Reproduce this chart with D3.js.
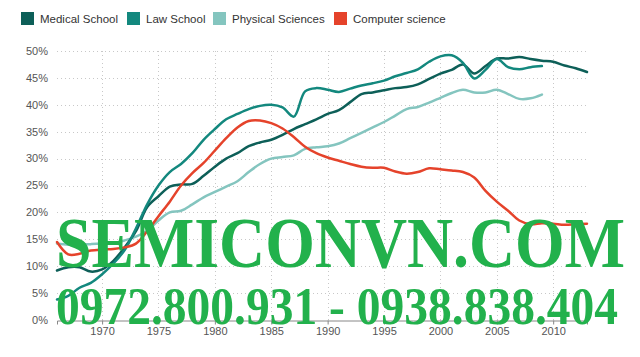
<!DOCTYPE html>
<html>
<head>
<meta charset="utf-8">
<script src="https://cdn.jsdelivr.net/npm/d3@7"></script>
<style>
  html, body { margin: 0; padding: 0; background: #fff; }
  svg { display: block; }
  .sans { font-family: "Liberation Sans", Arial, sans-serif; }
  .wm { font-family: "Liberation Serif", "Times New Roman", serif; font-weight: bold; }
</style>
</head>
<body>
<svg id="chart" width="640" height="357"></svg>
<script>
const seriesNames = ["Medical School", "Law School", "Physical Sciences", "Computer science"];
const seriesColors = ["#0d5f58", "#13887e", "#84c5bf", "#e5432b"];

const medicalYears = d3.range(1966, 2014);
const medicalValues = [9.2, 9.8, 9.8, 9.0, 9.4, 11.0, 13.5, 16.5, 21.0, 23.0,
  24.8, 25.2, 25.3, 26.8, 28.5, 30.0, 31.0, 32.3, 33.0, 33.5,
  34.4, 35.5, 36.4, 37.3, 38.3, 39.0, 40.5, 42.0, 42.3, 42.7,
  43.1, 43.3, 43.8, 44.8, 45.8, 46.5, 47.5, 45.8, 47.2, 48.6,
  48.6, 48.9, 48.5, 48.2, 48.0, 47.3, 46.8, 46.1];

const lawYears = d3.range(1966, 2010);
const lawValues = [3.8, 4.5, 6.0, 6.9, 8.5, 10.5, 13.0, 17.0, 21.5, 25.0,
  27.5, 29.0, 31.0, 33.5, 35.5, 37.3, 38.3, 39.2, 39.8, 40.0,
  39.5, 37.8, 42.5, 43.1, 42.8, 42.4, 43.0, 43.6, 44.0, 44.5,
  45.3, 45.9, 46.6, 48.0, 49.0, 49.2, 47.8, 44.9, 46.5, 48.5,
  47.0, 46.6, 47.0, 47.2];

const physicalYears = d3.range(1966, 2010);
const physicalValues = [14.2, 14.0, 14.0, 14.1, 14.2, 14.3, 14.8, 15.5, 16.6, 18.5,
  20.0, 20.3, 21.5, 22.8, 23.8, 24.8, 25.8, 27.5, 29.0, 30.0,
  30.3, 30.6, 31.8, 32.1, 32.3, 32.8, 33.8, 34.8, 35.8, 36.8,
  38.0, 39.2, 39.6, 40.4, 41.3, 42.2, 42.8, 42.3, 42.3, 42.8,
  42.0, 41.1, 41.2, 41.9];

const csYears = d3.range(1966, 2014);
const csValues = [14.5, 12.2, 12.3, 12.9, 13.1, 13.2, 13.5, 14.2, 16.5, 19.3,
  22.0, 25.0, 27.3, 29.2, 31.5, 33.8, 35.8, 37.0, 37.1, 36.6,
  35.6, 34.0, 32.2, 31.0, 30.2, 29.6, 29.0, 28.5, 28.3, 28.3,
  27.6, 27.2, 27.5, 28.2, 28.0, 27.8, 27.5, 26.5, 24.0, 22.0,
  20.3, 18.5, 17.8, 18.0, 17.9, 17.7, 17.8, 17.9];

const xTickValues = [1970, 1975, 1980, 1985, 1990, 1995, 2000, 2005, 2010];
const yTickValues = [0, 5, 10, 15, 20, 25, 30, 35, 40, 45, 50];
const watermarkLines = ["SEMICONVN.COM", "0972.800.931 - 0938.838.404"];

const svg = d3.select("#chart");
const x = d3.scaleLinear().domain([1966, 2013]).range([57, 587]);
const y = d3.scaleLinear().domain([0, 50]).range([320, 51]);

// horizontal gridlines
svg.append("g").selectAll("line").data(yTickValues.filter(d => d > 0)).join("line")
  .attr("x1", x(1966)).attr("x2", x(2013) + 1)
  .attr("y1", d => Math.round(y(d)) + 0.5).attr("y2", d => Math.round(y(d)) + 0.5)
  .attr("stroke", "#c8c8c8").attr("stroke-width", 1).attr("stroke-dasharray", "1,3");

// vertical gridlines
svg.append("g").selectAll("line").data(xTickValues).join("line")
  .attr("x1", d => Math.round(x(d)) + 0.5).attr("x2", d => Math.round(x(d)) + 0.5)
  .attr("y1", y(50)).attr("y2", y(0))
  .attr("stroke", "#c8c8c8").attr("stroke-width", 1).attr("stroke-dasharray", "1,3");

// y labels
svg.append("g").selectAll("text").data(yTickValues).join("text")
  .attr("class", "sans")
  .attr("x", 48).attr("y", d => y(d)).attr("dy", "0.35em")
  .attr("text-anchor", "end").attr("font-size", 11).attr("fill", "#555")
  .text(d => d + "%");

// x axis
const xAxis = d3.axisBottom(x).tickValues(xTickValues).tickFormat(d3.format("d"))
  .tickSize(4).tickSizeOuter(4).tickPadding(3);
const gx = svg.append("g").attr("transform", "translate(0,320.5)").call(xAxis);
gx.select(".domain").attr("stroke", "#888");
gx.selectAll(".tick line").attr("stroke", "#888");
gx.selectAll(".tick text").attr("class", "sans").attr("font-size", 11).attr("fill", "#555")
  .attr("font-family", null);

// lines
const line = d3.line().x(d => x(d[0])).y(d => y(d[1])).curve(d3.curveCatmullRom.alpha(0.5));
const series = [
  [medicalYears, medicalValues],
  [lawYears, lawValues],
  [physicalYears, physicalValues],
  [csYears, csValues]
];
const drawOrder = [2, 0, 1, 3];
drawOrder.forEach(i => {
  const pts = series[i][0].map((yr, j) => [yr, series[i][1][j]]);
  svg.append("path").datum(pts)
    .attr("d", line)
    .attr("fill", "none")
    .attr("stroke", seriesColors[i])
    .attr("stroke-width", 2.5)
    .attr("stroke-linejoin", "round")
    .attr("stroke-linecap", "round");
});

// legend
const legendX = [21, 127, 213, 334];
const lg = svg.append("g");
seriesNames.forEach((name, i) => {
  lg.append("rect").attr("x", legendX[i]).attr("y", 12).attr("width", 13).attr("height", 13)
    .attr("fill", seriesColors[i]);
  lg.append("text").attr("class", "sans").attr("x", legendX[i] + 19).attr("y", 22.5)
    .attr("font-size", 11.5).attr("fill", "#333").text(name);
});

// watermark
const wm = svg.append("g").attr("fill", "#22b14c");
wm.append("text").attr("class", "wm").attr("x", 56).attr("y", 267).attr("font-size", 72)
  .attr("textLength", 569).attr("lengthAdjust", "spacingAndGlyphs")
  .text(watermarkLines[0]);
wm.append("text").attr("class", "wm").attr("x", 56).attr("y", 324).attr("font-size", 52)
  .attr("textLength", 562).attr("lengthAdjust", "spacingAndGlyphs")
  .text(watermarkLines[1]);
</script>
</body>
</html>
